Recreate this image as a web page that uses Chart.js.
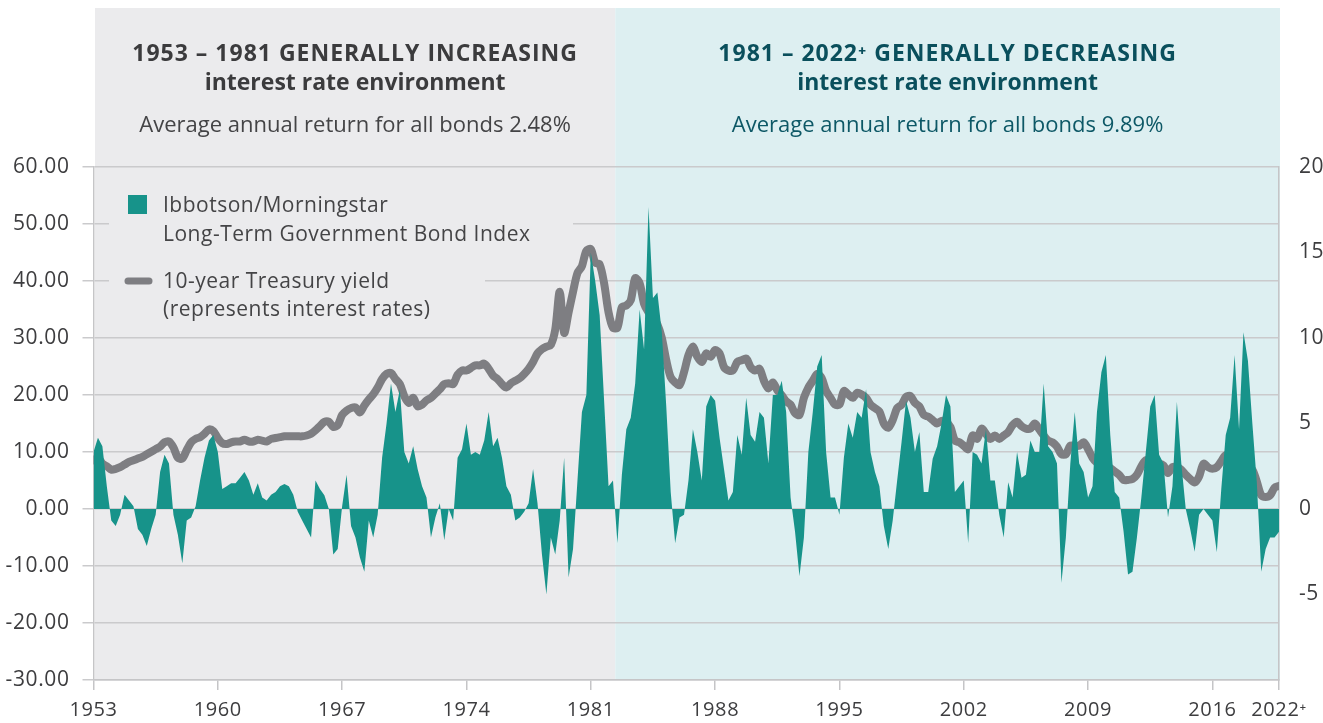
<!DOCTYPE html>
<html><head><meta charset="utf-8">
<script src="https://cdn.jsdelivr.net/npm/chart.js@4.4.0/dist/chart.umd.min.js"></script>
<style>html,body{margin:0;padding:0;background:#fff;}#wrap{width:1323px;height:723px;}</style>
</head><body><div id="wrap"><canvas id="c" width="1323" height="723"></canvas></div>
<script>
// Quarterly periods starting 1953 (index 0)
const bondReturns = [
10, 12.5, 11, 4, -2, -3, -1, 2.5, 1.5, 0.5,
-3.5, -4.5, -6.5, -3.5, -1, 6.5, 9.5, 8, -1, -4.5,
-9.5, -2, -1.5, 0.5, 5, 9, 12, 13, 10, 3.5,
4, 4.5, 4.5, 5.5, 6.5, 5, 2.5, 4.5, 2, 1.5,
2.5, 3, 4, 4.4, 4, 2.5, -0.5, -2, -3.5, -5,
5, 3.5, 2.4, 0, -8, -7, 0.5, 6, -3, -5,
-8.5, -11, -2, -5, -1, 9, 15, 22, 17, 21,
10, 8, 11, 7, 4, 2, -5, -1.5, 1, -5.5,
0, -2, 9, 10.5, 15, 9.5, 10, 9.5, 12, 17,
11, 12.5, 9, 4, 2.5, -2, -1.5, -0.5, 1, 7,
1, -8, -15, -5, -8, -2, 9, -12, -7, 5,
17, 20, 45, 40, 34, 19, 4, 5, -6, 6,
14, 16, 22, 35, 28, 53, 37, 38, 31, 18,
3, -6, -1.5, -1, 5, 14, 10, 5, 18, 20,
19, 12.5, 7, 1.5, 3, 13, 9.5, 19.5, 13, 11.8,
17, 16, 8, 20, 20, 22.5, 17, 2, -4, -11.8,
-5, 10, 17, 25, 27, 10, 2, 2, -1, 9,
15, 12.5, 17, 16, 21, 10, 6.5, 4, -3, -7,
-2, 5, 11.8, 19, 16, 10, 13.5, 3, 3, 8.8,
11, 15, 20, 18, 3, 4, 5, -6, 10, 9.5,
8, 14, 5, 5, -1, -5, 4.7, 2, 10, 5.5,
6, 12, 10, 10, 22, 11, 10, 8, -13, -5,
8, 17, 8, 6.5, 2, 4, 17, 24, 27, 13,
3, 2, -4, -11.5, -11, -5, 2, 10, 18, 20,
9.5, 8, -1.5, 4, 18.8, 8, 0, -3.5, -7.5, -1,
0, -1, -2, -7.6, 3.5, 13, 16, 27, 14, 31,
26, 15, 4.7, -11, -7, -5, -5, -4
];
const treasuryYield = [
2.85, 3.0, 2.65, 2.5, 2.3, 2.35, 2.45, 2.6, 2.75, 2.85,
2.95, 3.05, 3.2, 3.35, 3.5, 3.65, 3.9, 3.95, 3.6, 3.0,
2.95, 3.45, 3.9, 4.1, 4.2, 4.4, 4.65, 4.55, 4.15, 3.85,
3.8, 3.9, 3.95, 3.95, 4.05, 3.95, 3.95, 4.05, 4.0, 3.95,
4.1, 4.15, 4.2, 4.25, 4.25, 4.25, 4.25, 4.25, 4.3, 4.4,
4.6, 4.85, 5.1, 5.1, 4.8, 4.9, 5.5, 5.75, 5.9, 5.95,
5.65, 6.05, 6.4, 6.7, 7.1, 7.6, 7.9, 7.95, 7.6, 7.3,
6.6, 6.2, 6.5, 6.0, 6.1, 6.35, 6.5, 6.75, 7.0, 7.3,
7.35, 7.3, 7.85, 8.1, 8.1, 8.25, 8.4, 8.4, 8.5, 8.2,
7.8, 7.6, 7.3, 7.1, 7.35, 7.5, 7.65, 7.9, 8.2, 8.6,
9.1, 9.35, 9.5, 9.6, 10.5, 12.7, 10.3, 11.5, 12.7, 13.8,
14.2, 15.1, 15.2, 14.4, 14.3, 13.2, 11.5, 10.6, 10.6, 11.8,
11.9, 12.2, 13.5, 13.2, 12.0, 11.5, 11.2, 10.8, 10.0, 8.7,
7.7, 7.4, 7.25, 8.0, 9.0, 9.5, 8.9, 8.6, 9.1, 8.9,
9.3, 9.1, 8.3, 8.1, 8.1, 8.6, 8.7, 8.8, 8.3, 8.1,
8.2, 7.5, 7.05, 7.4, 6.95, 6.65, 6.3, 6.1, 5.6, 5.5,
6.5, 7.1, 7.5, 7.9, 7.65, 6.9, 6.5, 6.1, 6.1, 6.9,
6.7, 6.5, 6.8, 6.7, 6.5, 6.1, 5.9, 5.7, 5.0, 4.75,
5.2, 5.9, 6.1, 6.55, 6.6, 6.2, 6.0, 5.5, 5.4, 5.2,
5.0, 5.15, 5.1, 4.8, 4.0, 3.9, 3.7, 3.5, 4.3, 4.1,
4.7, 4.4, 4.1, 4.3, 4.1, 4.3, 4.5, 4.9, 5.1, 4.85,
4.7, 4.7, 5.0, 4.65, 4.3, 4.0, 3.9, 3.65, 3.2, 3.2,
3.7, 3.7, 3.7, 3.9, 3.5, 3.0, 2.7, 2.55, 2.55, 2.4,
2.2, 2.0, 1.7, 1.7, 1.75, 2.0, 2.5, 2.85, 2.8, 2.6,
2.65, 2.55, 2.1, 2.45, 2.45, 2.3, 2.0, 1.75, 1.55, 1.9,
2.65, 2.45, 2.35, 2.45, 2.8, 3.15, 2.95, 2.55, 2.35, 2.35,
2.35, 2.3, 1.6, 0.8, 0.7, 0.8, 1.25, 1.35
];
const xTickLabels = ['1953','1960','1967','1974','1981','1988','1995','2002','2009','2016','2022\u207A'];
const periodsPerTick = 28; // 7 years of quarterly periods
const splitPeriod = 117.5; // boundary between the two rate environments
const leftHeader = ['1953 \u2013 1981 GENERALLY INCREASING', 'interest rate environment', 'Average annual return for all bonds 2.48%'];
const rightHeader = ['1981 \u2013 2022\u207A GENERALLY DECREASING', 'interest rate environment', 'Average annual return for all bonds 9.89%'];
const legendBond = ['Ibbotson/Morningstar', 'Long-Term Government Bond Index'];
const legendYield = ['10-year Treasury yield', '(represents interest rates)'];

const lastIdx = bondReturns.length - 1;
const tickPositions = xTickLabels.map((l, k) => k < xTickLabels.length - 1 ? k * periodsPerTick : lastIdx);

const FONT = '"Open Sans", "DejaVu Sans", sans-serif';
const TEAL = '#17938a', GREY = '#7e7e82';
const BG_L = '#ebebed', BG_R = '#ddeff1';

const deco = {
  id: 'deco',
  beforeDraw(chart) {
    const {ctx, chartArea: a, scales: {x}} = chart;
    const x0 = x.getPixelForValue(0) + 1.5, xs = x.getPixelForValue(splitPeriod), x1 = x.getPixelForValue(lastIdx) + 1;
    ctx.save();
    ctx.fillStyle = BG_L; ctx.fillRect(x0, 8, xs - x0, a.bottom - 8);
    ctx.fillStyle = BG_R; ctx.fillRect(xs, 8, x1 - xs, a.bottom - 8);
    ctx.textAlign = 'center'; ctx.textBaseline = 'alphabetic';
    const drawHeader = (lines, cx, c1, c2) => {
      ctx.fillStyle = c1;
      ctx.font = 'bold 23px ' + FONT;
      ctx.letterSpacing = '1px'; ctx.fillText(lines[0], cx, 61);
      ctx.letterSpacing = '0px'; ctx.fillText(lines[1], cx, 90);
      ctx.fillStyle = c2;
      ctx.font = '22px ' + FONT; ctx.fillText(lines[2], cx, 132);
    };
    drawHeader(leftHeader, (x0 + xs) / 2, '#3b3b3d', '#444446');
    drawHeader(rightHeader, (xs + x1) / 2, '#0a4f5c', '#0d5866');
    ctx.restore();
    ctx.letterSpacing = '0.6px'; // for axis tick labels
  },
  beforeDatasetsDraw(chart) {
    const ctx = chart.ctx;
    ctx.save();
    ctx.fillStyle = BG_L;
    ctx.fillRect(109, 186, 464, 62);
    ctx.fillRect(109, 262, 376, 64);
    ctx.fillStyle = TEAL; ctx.fillRect(128, 195, 19, 19);
    ctx.strokeStyle = GREY; ctx.lineWidth = 7; ctx.lineCap = 'round';
    ctx.beginPath(); ctx.moveTo(128, 281); ctx.lineTo(149, 281); ctx.stroke();
    ctx.fillStyle = '#444446'; ctx.font = '21px ' + FONT; ctx.textAlign = 'left'; ctx.textBaseline = 'alphabetic';
    ctx.letterSpacing = '0.5px';
    ctx.fillText(legendBond[0], 163, 212);
    ctx.fillText(legendBond[1], 163, 241);
    ctx.fillText(legendYield[0], 163, 288);
    ctx.fillText(legendYield[1], 163, 316);
    ctx.restore();
  }
};

new Chart(document.getElementById('c'), {
  type: 'line',
  data: {
    datasets: [
      {label: legendBond.join(' '), data: bondReturns.map((v, i) => ({x: i, y: v})), yAxisID: 'y',
       fill: 'origin', backgroundColor: TEAL, borderColor: 'rgba(0,0,0,0)', borderWidth: 0, pointRadius: 0, tension: 0, order: 1},
      {label: legendYield.join(' '), data: treasuryYield.map((v, i) => ({x: i, y: v})), yAxisID: 'y2',
       fill: false, borderColor: GREY, borderWidth: 8, pointRadius: 0, tension: 0.3,
       borderCapStyle: 'round', borderJoinStyle: 'round', order: 2}
    ]
  },
  options: {
    responsive: false, animation: false, devicePixelRatio: 1,
    layout: {padding: {top: 167, left: 0, right: 0, bottom: 0}},
    plugins: {legend: {display: false}, tooltip: {enabled: false}},
    scales: {
      x: {type: 'linear', min: 0, max: lastIdx,
        afterBuildTicks: s => { s.ticks = tickPositions.map(v => ({value: v})); },
        afterFit: s => { s.height = 43; },
        ticks: {autoSkip: false, maxRotation: 0, padding: 8, color: '#3d3d3f',
          font: {family: FONT, size: 20}, callback: (v, i) => xTickLabels[i]},
        grid: {drawOnChartArea: false, drawTicks: true, tickLength: 10, color: '#c5c5c7', lineWidth: 1.5},
        border: {display: true, color: '#c5c5c7', width: 1.5}
      },
      y: {position: 'left', min: -30, max: 60,
        afterFit: s => { s.width = 93.5; },
        ticks: {stepSize: 10, padding: 13, color: '#3d3d3f', font: {family: FONT, size: 21},
          callback: v => Number(v).toFixed(2)},
        grid: {color: '#cacacc', lineWidth: 1.5, tickLength: 11},
        border: {display: true, color: '#c5c5c7', width: 1.5}
      },
      y2: {position: 'right', min: -10, max: 20,
        afterFit: s => { s.width = 44; },
        ticks: {stepSize: 5, padding: 12, color: '#3d3d3f', font: {family: FONT, size: 21},
          callback: v => v === -10 ? '' : String(v)},
        grid: {display: false},
        border: {display: true, color: '#c5c5c7', width: 1.5}
      }
    }
  },
  plugins: [deco]
});
</script></body></html>
